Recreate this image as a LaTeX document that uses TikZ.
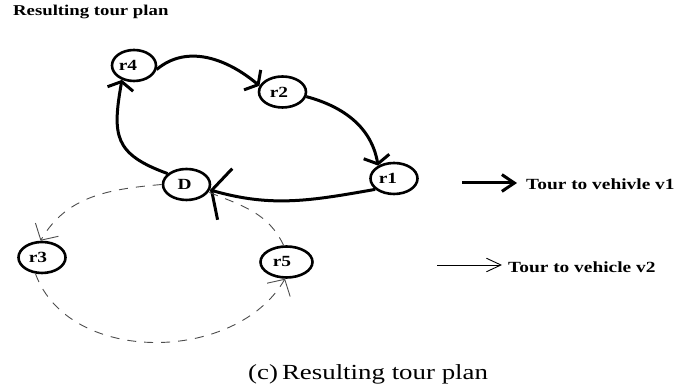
\documentclass[tikz,border=0pt]{standalone}
\usepackage{fontspec}
\setmainfont[FakeStretch=1.25]{Liberation Serif}
\usetikzlibrary{arrows.meta,shapes.geometric}
\definecolor{tourgray}{HTML}{4D4D4D}
\begin{document}
\begin{tikzpicture}[
      x=1pt, y=1pt,
      site/.style={ellipse, draw, line width=2.6pt, minimum width=47pt,
                   minimum height=31pt, inner sep=0pt,
                   font=\fontsize{15.5}{18}\selectfont\bfseries},
      tourone/.style={line width=3pt, -{Straight Barb[angle=120:15pt]}},
      tourtwo/.style={line width=0.9pt, draw=tourgray, dash pattern=on 9pt off 8pt,
                      -{Straight Barb[angle=95:18pt]}},
      legend/.style={anchor=base west, inner sep=0pt,
                     font=\fontsize{15.5}{18}\selectfont\bfseries}
    ]
      \useasboundingbox (0,0) rectangle (675,387);
      \node[legend,font=\fontsize{15}{18}\selectfont\bfseries] (title) at (13,371) {Resulting tour plan};
      \foreach \name/\xx/\yy/\w/\k in {D/186.5/202.5/47/4, r1/394/208.5/47/12, r2/282.5/295/47/7,
                                       r3/42/129.5/47/8, r4/134/321.5/44/12, r5/286.5/125/52/9} {
        \node[site,minimum width=\w pt] (\name) at (\xx,\yy) {\name\kern\k pt};
      }
      \draw[tourone] (D.150) to[out=160,in=260,looseness=1.4] (r4.230);
      \draw[tourone] (r4.350) to[out=40,in=140] (r2.165);
      \draw[tourone] (r2.349) to[out=-15,in=100] (r1.141);
      \draw[tourone,-{Straight Barb[angle=125:30pt]}] (r1.210) to[out=190,in=-16] (D.347);
      \draw[tourtwo] (D.180) to[out=185,in=60] (r3.95);
      \draw[tourtwo] (r3.248) to[out=-70,in=-120] (r5.265);
      \draw[tourtwo,-] (r5.100) to[out=115,in=-22] (D.341);
      \coordinate (v1start) at (462,204);
      \coordinate (v1end) at (517,204);
      \coordinate (v2start) at (437,122);
      \coordinate (v2end) at (502,122);
      \draw[line width=3pt,-{Straight Barb[angle=68:15pt]}] (v1start) -- (v1end);
      \draw[line width=0.9pt,-{Straight Barb[angle=50:16pt]}] (v2start) -- (v2end);
      \node[legend] (v1) at (526,197) {Tour to vehivle v1};
      \node[legend] (v2) at (508,114) {Tour to vehicle v2};
      \node[legend,font=\fontsize{21.5}{24}\selectfont] (caption) at (248,7.7) {(c)\hspace{4pt}Resulting tour plan};
    \end{tikzpicture}
\end{document}
